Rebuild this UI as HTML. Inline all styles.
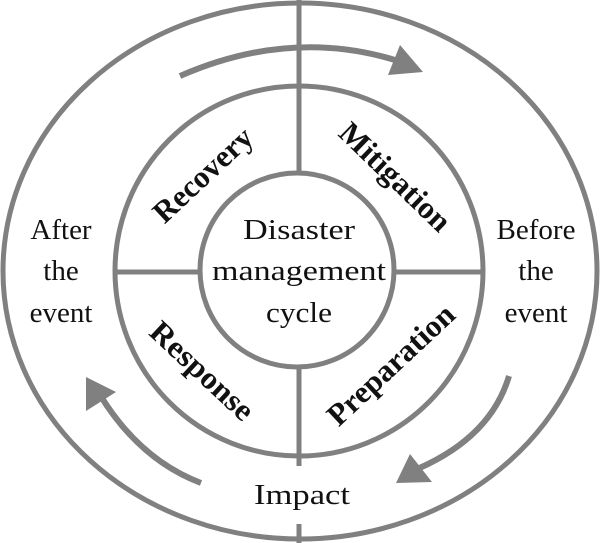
<!DOCTYPE html>
<html><head><meta charset="utf-8"><style>html,body{margin:0;padding:0;background:#fff}svg{display:block}</style></head>
<body>
<svg width="600" height="543" viewBox="0 0 600 543" xmlns="http://www.w3.org/2000/svg">
<g fill="none" stroke="#808080" stroke-width="5">
<ellipse cx="300" cy="271" rx="297" ry="268"/>
<ellipse cx="299" cy="271" rx="184" ry="185"/>
<ellipse cx="297" cy="270" rx="97" ry="97"/>
<line x1="299" y1="0" x2="299" y2="173"/>
<line x1="299" y1="367" x2="299" y2="466"/>
<line x1="299" y1="524" x2="299" y2="543"/>
<line x1="115" y1="272" x2="200" y2="272"/>
<line x1="394" y1="272" x2="484" y2="272"/>
</g>
<g fill="none" stroke="#808080" stroke-width="6">
<path d="M180 76 Q290 28 395 60"/>
<path d="M509 376 Q490 440 410 472"/>
<path d="M201 483 Q140 460 100 395"/>
</g>
<g fill="#808080">
<polygon points="423,72 388,75 400,45"/>
<polygon points="396,483 410,454 432,482"/>
<polygon points="86,377 86,411 116,392"/>
</g>
<g font-family="'Liberation Serif',serif" font-size="29" fill="#111" text-anchor="middle">
<text x="61" y="239">After</text><text x="61" y="280">the</text><text x="61" y="322">event</text>
<text x="536" y="239">Before</text><text x="536" y="280">the</text><text x="536" y="322">event</text>
<text x="299" y="239" textLength="112" lengthAdjust="spacingAndGlyphs">Disaster</text>
<text x="299" y="280" textLength="174" lengthAdjust="spacingAndGlyphs">management</text>
<text x="299" y="322" textLength="66" lengthAdjust="spacingAndGlyphs">cycle</text>
<text x="302" y="504" textLength="96" lengthAdjust="spacingAndGlyphs">Impact</text>
</g>
<g font-family="'Liberation Serif',serif" font-size="31" font-weight="bold" fill="#111" text-anchor="middle">
<text transform="translate(203,175) rotate(-43)" dy="10" textLength="124" lengthAdjust="spacingAndGlyphs">Recovery</text>
<text transform="translate(395,177) rotate(44)" dy="10" textLength="142" lengthAdjust="spacingAndGlyphs">Mitigation</text>
<text transform="translate(202,371) rotate(43)" dy="10" textLength="130" lengthAdjust="spacingAndGlyphs">Response</text>
<text transform="translate(391,365) rotate(-43)" dy="10" textLength="162" lengthAdjust="spacingAndGlyphs">Preparation</text>
</g>
</svg>
</body></html>
